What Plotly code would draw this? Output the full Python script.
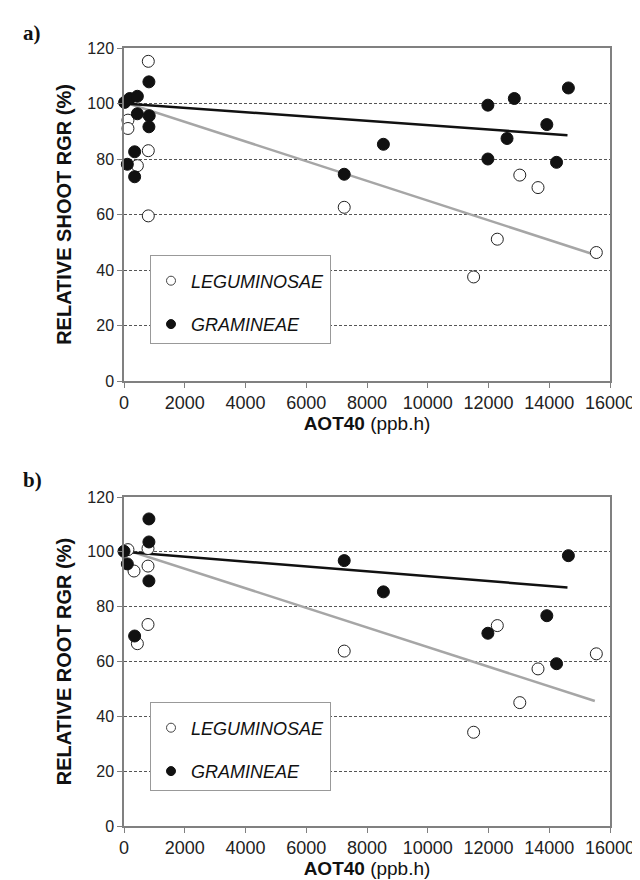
import plotly.graph_objects as go

# ---- Data ----
# Panel a) relative shoot RGR
shoot_leg_x = [130, 130, 440, 800, 800, 800, 7250, 11510, 12290, 13030, 13630, 15550]
shoot_leg_y = [94.0, 91.0, 77.6, 115.2, 83.0, 59.5, 62.6, 37.5, 51.1, 74.2, 69.7, 46.3]
shoot_gra_x = [20, 190, 440, 440, 830, 820, 820, 350, 110, 350, 7250, 8540, 11980, 11980, 12850, 12610, 13920, 14240, 14630]
shoot_gra_y = [100.4, 101.8, 102.6, 96.3, 95.6, 107.8, 91.6, 82.6, 78.1, 73.6, 74.5, 85.3, 99.4, 80.0, 101.8, 87.4, 92.4, 78.8, 105.6]
shoot_leg_fit_x = [0, 15500]
shoot_leg_fit_y = [100.5, 45.5]
shoot_gra_fit_x = [0, 14600]
shoot_gra_fit_y = [100.0, 88.6]

# Panel b) relative root RGR
root_leg_x = [130, 330, 790, 790, 790, 440, 7250, 12290, 15550, 13630, 13030, 11510]
root_leg_y = [100.8, 93.0, 101.2, 94.8, 73.5, 66.5, 63.8, 73.1, 62.8, 57.3, 45.0, 34.2]
root_gra_x = [0, 110, 350, 820, 820, 820, 7250, 8540, 13920, 11980, 14240, 14630]
root_gra_y = [100.2, 95.6, 69.3, 112.0, 103.6, 89.4, 96.8, 85.4, 76.7, 70.3, 59.2, 98.6]
root_leg_fit_x = [0, 15500]
root_leg_fit_y = [101.0, 45.6]
root_gra_fit_x = [0, 14600]
root_gra_fit_y = [100.0, 87.0]

x_ticks = [0, 2000, 4000, 6000, 8000, 10000, 12000, 14000, 16000]
x_tick_labels = ["0", "2000", "4000", "6000", "8000", "10000", "12000", "14000", "16000"]
y_ticks = [0, 20, 40, 60, 80, 100, 120]
y_tick_labels = ["0", "20", "40", "60", "80", "100", "120"]

FONT = "Liberation Sans, Arial, sans-serif"
SERIF = "Liberation Serif, Times New Roman, serif"

fig = go.Figure()


def add_panel(xa, ya, legend, leg_x, leg_y, gra_x, gra_y, lfx, lfy, gfx, gfy):
    fig.add_trace(go.Scatter(x=lfx, y=lfy, mode="lines", xaxis=xa, yaxis=ya,
                             line=dict(color="#a6a6a6", width=2.5), showlegend=False,
                             hoverinfo="skip"))
    fig.add_trace(go.Scatter(x=gfx, y=gfy, mode="lines", xaxis=xa, yaxis=ya,
                             line=dict(color="#111111", width=2.5), showlegend=False,
                             hoverinfo="skip"))
    fig.add_trace(go.Scatter(x=leg_x, y=leg_y, mode="markers", xaxis=xa, yaxis=ya,
                             showlegend=False, cliponaxis=False,
                             marker=dict(size=12, color="white", line=dict(color="#222", width=1))))
    fig.add_trace(go.Scatter(x=gra_x, y=gra_y, mode="markers", xaxis=xa, yaxis=ya,
                             showlegend=False, cliponaxis=False,
                             marker=dict(size=12, color="#111111", line=dict(color="#111", width=1))))
    # legend entries (smaller symbols, as in the reference legend)
    fig.add_trace(go.Scatter(x=[None], y=[None], mode="markers", xaxis=xa, yaxis=ya,
                             name="<i>LEGUMINOSAE</i>", legend=legend, legendgroup=legend + "l",
                             marker=dict(size=9, color="white", line=dict(color="#444", width=1))))
    fig.add_trace(go.Scatter(x=[None], y=[None], mode="markers", xaxis=xa, yaxis=ya,
                             name="<i>GRAMINEAE</i>", legend=legend, legendgroup=legend + "g",
                             marker=dict(size=9, color="#111111", line=dict(color="#111", width=1))))


add_panel("x", "y", "legend", shoot_leg_x, shoot_leg_y, shoot_gra_x, shoot_gra_y,
          shoot_leg_fit_x, shoot_leg_fit_y, shoot_gra_fit_x, shoot_gra_fit_y)
add_panel("x2", "y2", "legend2", root_leg_x, root_leg_y, root_gra_x, root_gra_y,
          root_leg_fit_x, root_leg_fit_y, root_gra_fit_x, root_gra_fit_y)

H = 880.0


def xaxis(anchor, standoff):
    return dict(domain=[0, 1], anchor=anchor, range=[0, 16000],
                tickmode="array", tickvals=x_ticks, ticktext=x_tick_labels,
                showgrid=False, zeroline=False, showline=True, linecolor="#808080", linewidth=1.5,
                mirror=True, ticks="outside", ticklen=5, tickcolor="#808080", automargin=False,
                tickfont=dict(size=18, color="#222", family=FONT),
                title=dict(text="<b>AOT40</b> (ppb.h)", font=dict(size=19, color="#111", family=FONT),
                           standoff=standoff))


def yaxis(anchor, dom, title):
    return dict(domain=dom, anchor=anchor, range=[0, 120],
                tickmode="array", tickvals=y_ticks, ticktext=y_tick_labels,
                showgrid=True, gridcolor="#555", griddash="3px,2px", gridwidth=1,
                zeroline=False, showline=True, linecolor="#808080", linewidth=1.5,
                mirror=True, ticks="outside", ticklen=5, tickcolor="#808080", automargin=False,
                tickfont=dict(size=16, color="#222", family=FONT),
                title=dict(text="<b>" + title + "</b>", font=dict(size=20, color="#111", family=FONT),
                           standoff=10))


legend_common = dict(bgcolor="white", bordercolor="#999", borderwidth=1,
                     font=dict(size=18, color="#111", family=FONT),
                     xanchor="left", yanchor="top", tracegroupgap=17,
                     itemsizing="trace", entrywidth=155,
                     title=dict(text=" ", font=dict(size=5)))

fig.update_layout(
    width=640, height=880,
    margin=dict(l=116, r=38, t=0, b=0, autoexpand=False),
    paper_bgcolor="white", plot_bgcolor="white",
    font=dict(family=FONT),
    xaxis=xaxis("y", 2),
    yaxis=yaxis("x", [1 - 373 / H, 1 - 40 / H], "RELATIVE SHOOT RGR (%)"),
    xaxis2=xaxis("y2", 0),
    yaxis2=yaxis("x2", [1 - 818 / H, 1 - 489 / H], "RELATIVE ROOT RGR (%)"),
    legend=dict(x=(142 - 116) / 486, y=1 - 247 / H, **legend_common),
    legend2=dict(x=(142 - 116) / 486, y=1 - 694 / H, **legend_common),
    annotations=[
        dict(text="<b>a)</b>", x=(13 - 116) / 486, y=1 - 25 / H, xref="paper", yref="paper",
             xanchor="left", yanchor="middle", showarrow=False,
             font=dict(size=21, color="#111", family=SERIF)),
        dict(text="<b>b)</b>", x=(13 - 116) / 486, y=1 - 472 / H, xref="paper", yref="paper",
             xanchor="left", yanchor="middle", showarrow=False,
             font=dict(size=21, color="#111", family=SERIF)),
    ],
)

fig.write_html("out.html")
